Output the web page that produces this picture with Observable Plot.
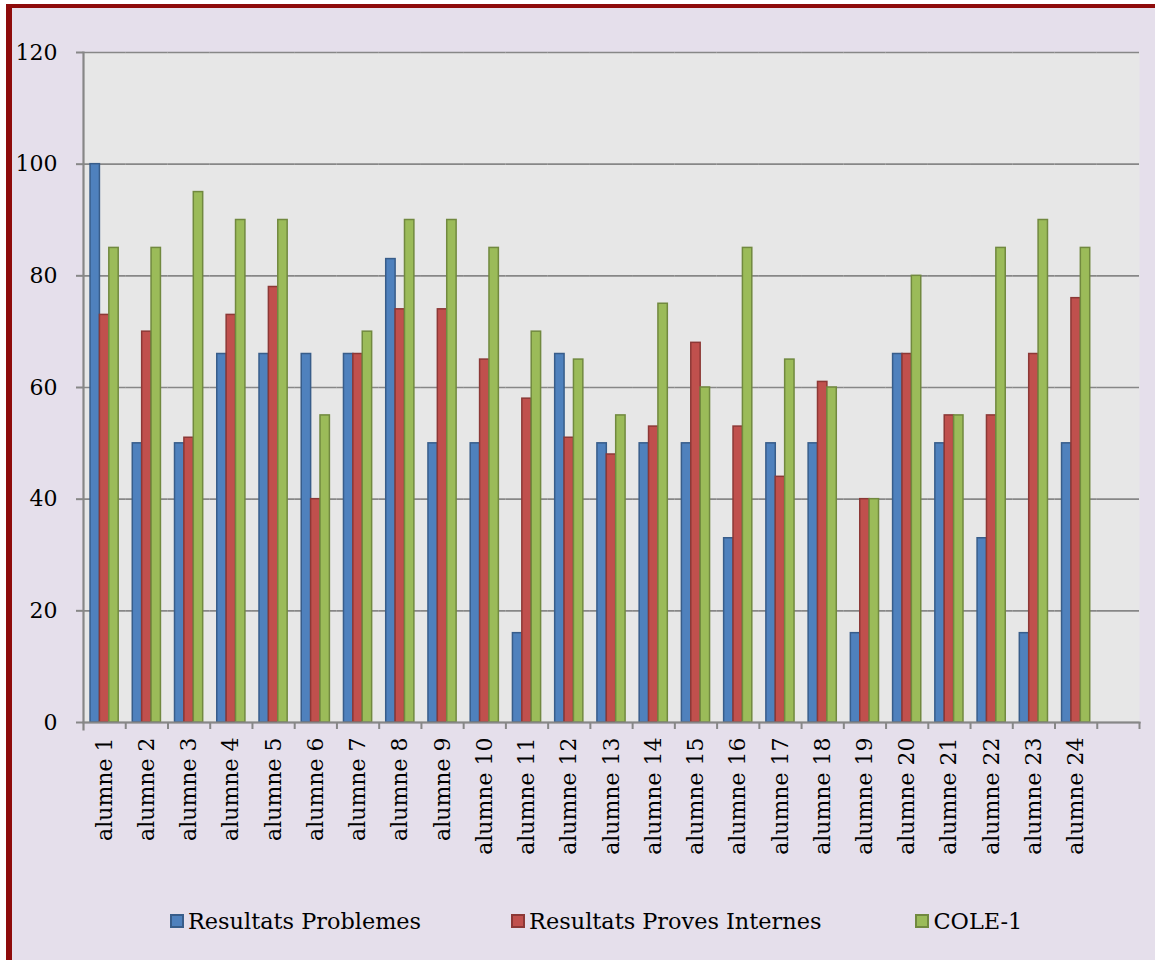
<!DOCTYPE html>
<html>
<head>
<meta charset="utf-8">
<script src="https://cdn.jsdelivr.net/npm/d3@7"></script>
<script src="https://cdn.jsdelivr.net/npm/@observablehq/plot@0.6"></script>
<style>
  html, body { margin: 0; padding: 0; background: #ffffff; width: 1155px; height: 960px; overflow: hidden; }
  #bg { position: absolute; left: 6px; top: 4px; width: 1143px; height: 956px; background: #e5dfeb;
        border-left: 6px solid #8e0b0b; border-top: 4px solid #8e0b0b; }
  #chart { position: absolute; left: 0; top: 0; }
  #legend { position: absolute; top: 908px; left: 170px; display: flex; align-items: center;
            font-family: "DejaVu Serif", serif; font-size: 22.4px; color: #000; }
  .item { display: flex; align-items: center; }
  .sw { width: 14px; height: 14px; border: 2px solid; box-sizing: border-box; margin-right: 4px; }
</style>
</head>
<body>
<div id="bg"></div>
<div id="chart"></div>
<div id="legend"></div>
<script>
const categories = ["alumne 1","alumne 2","alumne 3","alumne 4","alumne 5","alumne 6","alumne 7","alumne 8",
  "alumne 9","alumne 10","alumne 11","alumne 12","alumne 13","alumne 14","alumne 15","alumne 16",
  "alumne 17","alumne 18","alumne 19","alumne 20","alumne 21","alumne 22","alumne 23","alumne 24",""];
const seriesNames = ["Resultats Problemes","Resultats Proves Internes","COLE-1"];
const problemes = [100,50,50,66,66,66,66,83,50,50,16,66,50,50,50,33,50,50,16,66,50,33,16,50];
const provesInternes = [73,70,51,73,78,40,66,74,74,65,58,51,48,53,68,53,44,61,40,66,55,55,66,76];
const cole1 = [85,85,95,90,90,55,70,90,90,85,70,65,55,75,60,85,65,60,40,80,55,85,90,85];
const yTicks = [0,20,40,60,80,100,120];

const fills = ["#4f81bd","#c0504d","#9bbb59"];
const strokes = ["#385d8a","#8c3836","#71893f"];
const gridColor = "#878787";

const valuesBySeries = [problemes, provesInternes, cole1];
// one row per category and series; the empty last category has no value
const data = [];
categories.forEach((c, i) => {
  seriesNames.forEach((s, k) => {
    const v = valuesBySeries[k][i];
    data.push({alumne: c, series: s, value: v === undefined ? null : v, k});
  });
});

const W = 1155, H = 880, ML = 83, MR = 16, MT = 52, MB = 158;
const step = (W - ML - MR) / categories.length;
const font = "DejaVu Serif";

const chart = Plot.plot({
  width: W, height: H,
  marginLeft: ML, marginRight: MR, marginTop: MT, marginBottom: MB,
  style: {background: "transparent", fontFamily: font, fontSize: "22px", color: "#000", overflow: "visible"},
  fx: {domain: categories, padding: 0, round: false, axis: null, label: null},
  x: {domain: seriesNames, paddingInner: 0, paddingOuter: 0.75, round: false, axis: null},
  y: {domain: [0, 120], axis: null},
  color: {domain: seriesNames, range: fills},
  marks: [
    Plot.frame({fill: "#e7e7e7", stroke: null, facet: "super"}),
    Plot.gridY(yTicks, {stroke: gridColor, strokeOpacity: 1, strokeWidth: 1.6}),
    Plot.barY(data, {fx: "alumne", x: "series", y: "value", fill: "series",
      stroke: d => strokes[d.k], strokeWidth: 1.5}),
    Plot.frame({anchor: "bottom", facet: "super", stroke: gridColor, strokeWidth: 2.2}),
    Plot.frame({anchor: "left", facet: "super", stroke: gridColor, strokeWidth: 2.2, insetBottom: -7}),
    Plot.axisY(yTicks, {anchor: "left", tickSize: 7, tickPadding: 19, stroke: gridColor, strokeWidth: 2,
      fill: "#000", fontSize: 22, label: null}),
    Plot.axisFx({anchor: "bottom", tickSize: 0, tickPadding: 15, tickRotate: -90,
      fill: "#000", fontSize: 22, label: null}),
    Plot.axisFx({anchor: "bottom", tickSize: 7, tickFormat: () => "", dx: step / 2,
      stroke: gridColor, strokeWidth: 2, label: null})
  ]
});
document.getElementById("chart").appendChild(chart);

const legend = document.getElementById("legend");
seriesNames.forEach((s, k) => {
  const item = document.createElement("div");
  item.className = "item";
  if (k > 0) item.style.marginLeft = k === 1 ? "90px" : "94px";
  const sw = document.createElement("div");
  sw.className = "sw";
  sw.style.background = fills[k];
  sw.style.borderColor = strokes[k];
  const t = document.createElement("span");
  t.textContent = s;
  item.appendChild(sw);
  item.appendChild(t);
  legend.appendChild(item);
});
</script>
</body>
</html>
